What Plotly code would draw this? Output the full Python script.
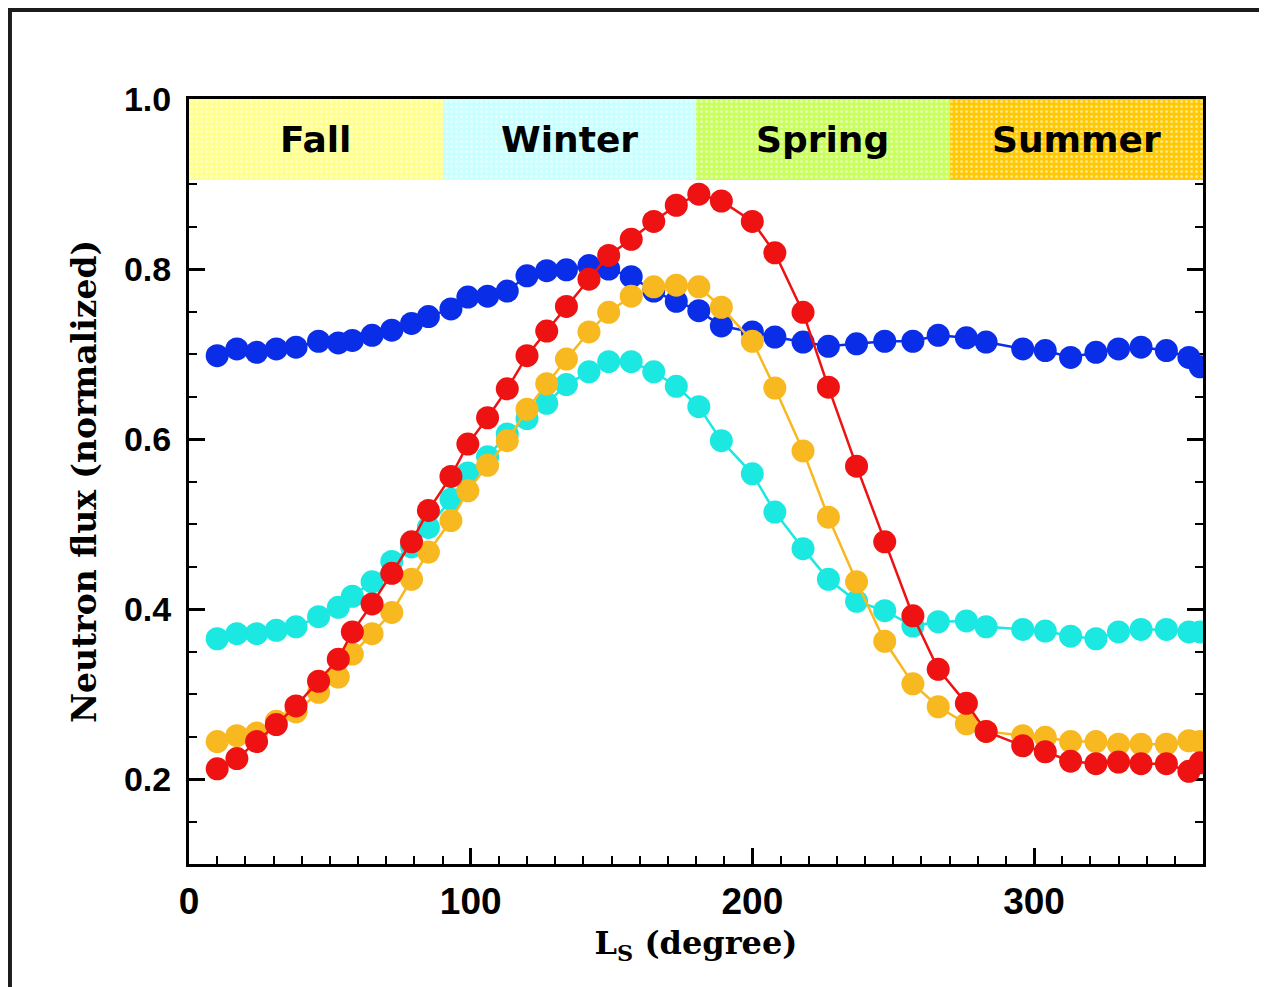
import plotly.graph_objects as go

# ---- data ----
ls_deg = [10, 17, 24, 31, 38, 46, 53, 58, 65, 72, 79, 85, 93, 99, 106, 113, 120, 127, 134, 142,
          149, 157, 165, 173, 181, 189, 200, 208, 218, 227, 237, 247, 257, 266, 276, 283, 296, 304,
          313, 322, 330, 338, 347, 355, 359]

flux_blue = [0.698, 0.706, 0.702, 0.706, 0.708, 0.715, 0.713, 0.716, 0.722, 0.728, 0.736, 0.744,
             0.753, 0.767, 0.768, 0.774, 0.792, 0.798, 0.799, 0.804, 0.800, 0.791, 0.774, 0.762,
             0.751, 0.733, 0.726, 0.720, 0.714, 0.709, 0.712, 0.715, 0.715, 0.722, 0.719, 0.714,
             0.706, 0.704, 0.696, 0.702, 0.706, 0.708, 0.704, 0.696, 0.685]

flux_cyan = [0.365, 0.371, 0.371, 0.375, 0.379, 0.391, 0.402, 0.415, 0.432, 0.456, 0.473, 0.496,
             0.529, 0.560, 0.579, 0.606, 0.624, 0.642, 0.664, 0.679, 0.691, 0.691, 0.679, 0.662,
             0.638, 0.598, 0.559, 0.514, 0.471, 0.435, 0.409, 0.398, 0.380, 0.385, 0.386, 0.379,
             0.376, 0.374, 0.368, 0.365, 0.373, 0.376, 0.376, 0.373, 0.373]

flux_yellow = [0.244, 0.251, 0.254, 0.268, 0.279, 0.302, 0.320, 0.347, 0.371, 0.396, 0.435, 0.467,
               0.504, 0.539, 0.569, 0.598, 0.635, 0.665, 0.694, 0.726, 0.749, 0.768, 0.779, 0.781,
               0.779, 0.755, 0.715, 0.660, 0.586, 0.508, 0.432, 0.362, 0.312, 0.285, 0.265, 0.256,
               0.251, 0.249, 0.244, 0.244, 0.241, 0.241, 0.241, 0.245, 0.244]

flux_red = [0.212, 0.224, 0.244, 0.264, 0.286, 0.315, 0.341, 0.373, 0.406, 0.442, 0.479, 0.516,
            0.556, 0.594, 0.625, 0.659, 0.698, 0.727, 0.756, 0.788, 0.816, 0.835, 0.856, 0.875,
            0.888, 0.880, 0.856, 0.819, 0.749, 0.661, 0.568, 0.479, 0.392, 0.329, 0.289, 0.256,
            0.239, 0.232, 0.221, 0.218, 0.220, 0.218, 0.218, 0.209, 0.219]

seasons = ["Fall", "Winter", "Spring", "Summer"]
season_start = [0, 90, 180, 270]
season_end = [90, 180, 270, 360]
season_colors = ["#ffff8c", "#c8ffff", "#c8ff5a", "#ffc800"]
band_bottom = 0.905
band_top = 1.0

x_ticks = [0, 100, 200, 300]
y_ticks = [0.2, 0.4, 0.6, 0.8, 1.0]

# ---- figure ----
fig = go.Figure()

# season bands
for name, s0, s1, col in zip(seasons, season_start, season_end, season_colors):
    fig.add_trace(go.Bar(
        x=[(s0 + s1) / 2], y=[band_top - band_bottom], base=[band_bottom], width=[s1 - s0],
        marker=dict(color=col, line=dict(width=0),
                    pattern=dict(shape=".", bgcolor=col, fgcolor="white", size=5, solidity=0.3)),
        showlegend=False, hoverinfo="skip"))

series = [
    (flux_blue, "#0a2ee8"),
    (flux_cyan, "#1ce8e2"),
    (flux_yellow, "#f8b820"),
    (flux_red, "#ee1212"),
]
for ys, col in series:
    fig.add_trace(go.Scatter(
        x=ls_deg, y=ys, mode="lines+markers",
        line=dict(color=col, width=2.5),
        marker=dict(color=col, size=23, line=dict(width=0)),
        showlegend=False))

for name, s0, s1 in zip(seasons, season_start, season_end):
    fig.add_annotation(x=(s0 + s1) / 2, y=(band_top + band_bottom) / 2, text=name,
                       showarrow=False, xref="x", yref="y",
                       font=dict(family="DejaVu Sans", size=36, color="black", weight="bold"))

# screenshot frame: thin dark strips at top and left
fig.add_shape(type="rect", xref="paper", yref="paper",
              x0=-0.2, x1=1.1, y0=1.1137, y1=1.2,
              fillcolor="#1c1c1c", line=dict(width=0), layer="below")
fig.add_shape(type="rect", xref="paper", yref="paper",
              x0=-0.2, x1=-0.1746, y0=-0.2, y1=1.2,
              fillcolor="#1c1c1c", line=dict(width=0), layer="below")

x_tick_font = dict(family="Liberation Sans", size=37, color="black", weight="bold")
y_tick_font = dict(family="Liberation Sans", size=34, color="black", weight="bold")
title_font_x = dict(family="DejaVu Serif", size=32, color="black", weight="bold")
title_font_y = dict(family="DejaVu Serif", size=33, color="black", weight="bold")

fig.update_layout(
    width=1259, height=979,
    margin=dict(l=181, r=64, t=91, b=123),
    paper_bgcolor="white",
    plot_bgcolor="white",
    barmode="overlay",
    bargap=0,
    xaxis=dict(
        range=[0, 360], tickvals=x_ticks, ticktext=[str(v) for v in x_ticks],
        ticks="inside", ticklen=16, tickwidth=2.5, tickcolor="black",
        minor=dict(dtick=10, ticks="inside", ticklen=8, tickwidth=2, tickcolor="black"),
        showline=True, linecolor="black", linewidth=3, mirror="ticks",
        showgrid=False, zeroline=False, layer="below traces",
        tickfont=x_tick_font, ticklabelstandoff=3,
        title=dict(text="L<sub>S</sub> (degree)", font=title_font_x, standoff=11),
    ),
    yaxis=dict(
        range=[0.1, 1.0], tickvals=y_ticks, ticktext=["%.1f" % v for v in y_ticks],
        ticks="inside", ticklen=16, tickwidth=2.5, tickcolor="black",
        minor=dict(dtick=0.05, tick0=0.1, ticks="inside", ticklen=8, tickwidth=2, tickcolor="black"),
        showline=True, linecolor="black", linewidth=3, mirror="ticks",
        showgrid=False, zeroline=False, layer="below traces",
        tickfont=y_tick_font, ticklabelstandoff=8,
        title=dict(text="Neutron flux (normalized)", font=title_font_y, standoff=18),
    ),
)

fig.write_html("out.html")
